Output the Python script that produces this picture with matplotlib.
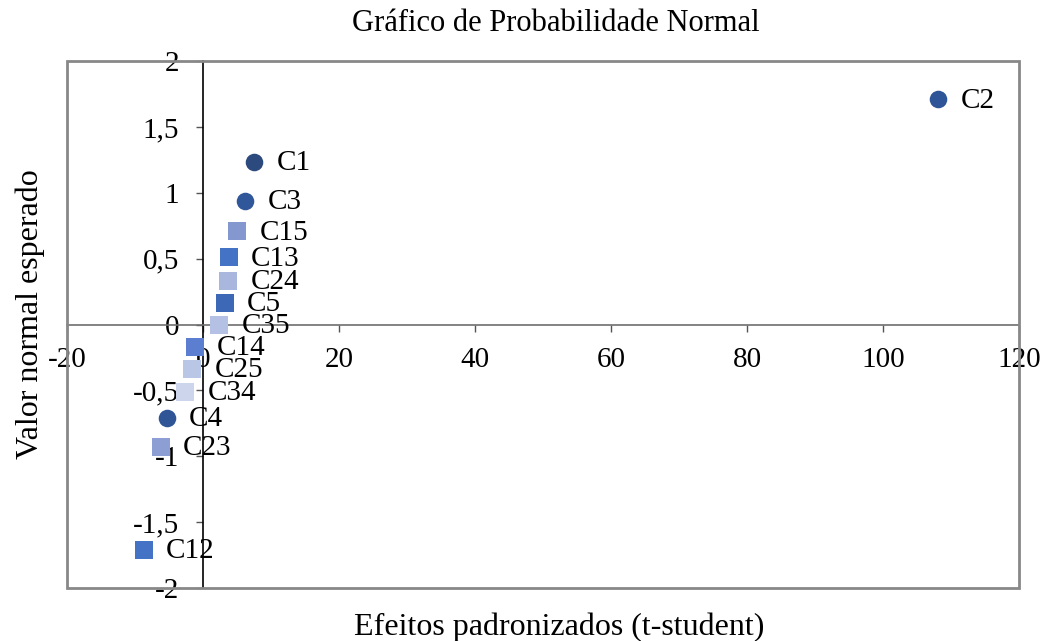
import numpy as np
import matplotlib.pyplot as plt
from matplotlib.patches import Rectangle

plt.rcParams['font.family'] = ['Liberation Serif', 'DejaVu Serif']
plt.rcParams['axes.unicode_minus'] = False

# data
labels = ['C2', 'C1', 'C3', 'C15', 'C13', 'C24', 'C5', 'C35', 'C14', 'C25', 'C34', 'C4', 'C23', 'C12']
efeito = [108.1, 7.5, 6.2, 5.0, 3.8, 3.7, 3.2, 2.4, -1.2, -1.6, -2.6, -5.3, -6.2, -8.7]
valor = [1.708, 1.237, 0.94, 0.706, 0.509, 0.334, 0.167, 0.0, -0.167, -0.334, -0.51, -0.706, -0.93, -1.71]
marcador = ['o', 'o', 'o', 's', 's', 's', 's', 's', 's', 's', 's', 'o', 's', 's']
cores = ['#2E5597', '#2D4A7E', '#30579A', '#8497CF', '#4472C4', '#A9B6DD', '#3D68B5',
         '#B4C1E4', '#5B7ED0', '#BAC6E6', '#CDD5EC', '#2F5597', '#8C9ED3', '#4472C4']

fig = plt.figure(figsize=(10.44, 6.41), dpi=100)
ax = fig.add_axes([0.0642, 0.0827, 0.912, 0.8221])

for x, y, m, c, lab in zip(efeito, valor, marcador, cores, labels):
    ax.scatter(x, y, marker=m, s=160 if m == 'o' else 150, color=c, zorder=3, linewidths=0)
    ax.annotate(lab, (x, y), xytext=(16, -1), textcoords='offset points',
                va='center', ha='left', fontsize=21, zorder=4)

ax.set_xlim(-20, 120)
ax.set_ylim(-2, 2)
ax.set_xticks(np.arange(-20, 121, 20))
ax.set_yticks(np.arange(-2, 2.01, 0.5))
ax.set_yticklabels(['-2', '-1,5', '-1', '-0,5', '0', '0,5', '1', '1,5', '2'])

ax.spines['left'].set_position(('data', 0))
ax.spines['bottom'].set_position(('data', 0))
ax.spines['top'].set_visible(False)
ax.spines['right'].set_visible(False)
ax.spines['left'].set_color('black')
ax.spines['bottom'].set_color('#6e6e6e')
ax.spines['left'].set_linewidth(1.2)
ax.spines['bottom'].set_linewidth(1.2)
ax.tick_params(axis='both', direction='out', length=5, width=1, labelsize=21, color='#555555')
ax.tick_params(axis='x', pad=11)
ax.tick_params(axis='y', pad=12)

ax.add_patch(Rectangle((0, 0), 1, 1, transform=ax.transAxes, fill=False,
                       edgecolor='#888888', linewidth=2, clip_on=False, zorder=5))

fig.text(0.532, 0.963, 'Gráfico de Probabilidade Normal', ha='center', va='center', fontsize=22)
fig.text(0.536, 0.022, 'Efeitos padronizados (t-student)', ha='center', va='center', fontsize=23)
fig.text(0.029, 0.51, 'Valor normal esperado', ha='center', va='center', rotation=90, fontsize=23)

fig.savefig('out.png', dpi=100)
